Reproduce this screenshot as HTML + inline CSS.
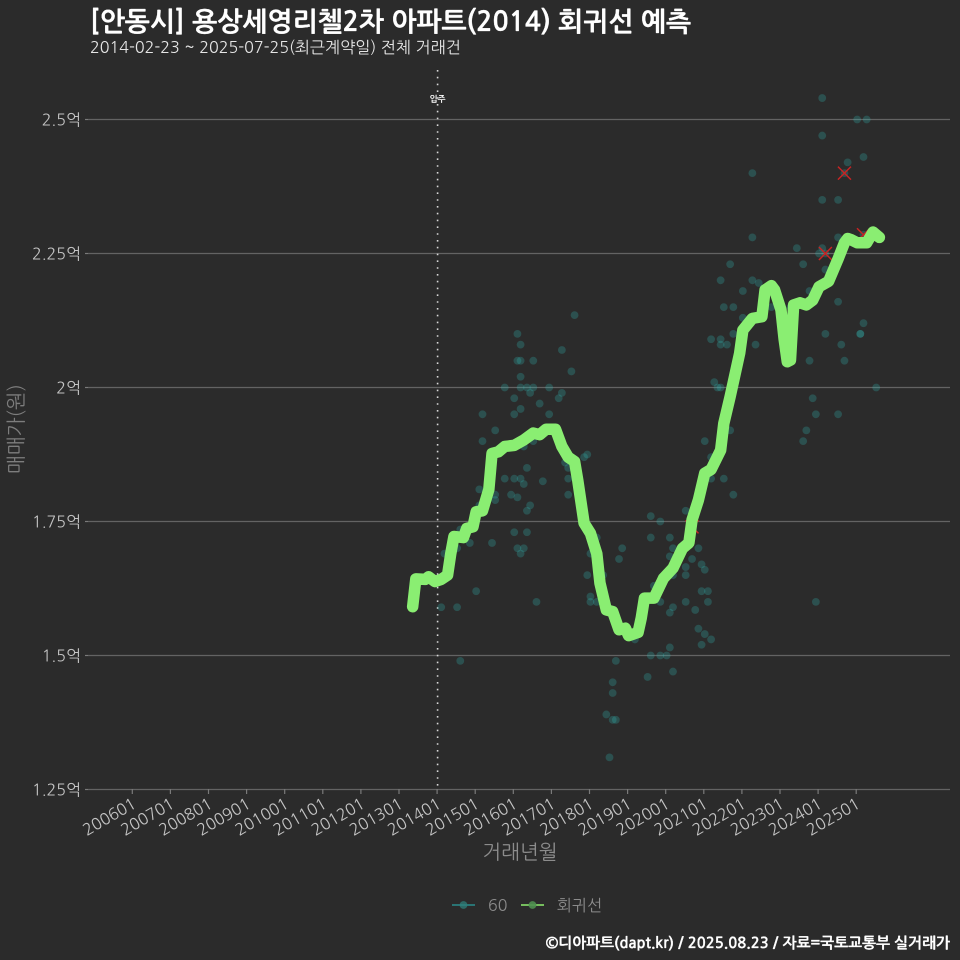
<!DOCTYPE html>
<html lang="ko">
<head>
<meta charset="utf-8">
<title>안동시 용상세영리첼2차 아파트 회귀선 예측</title>
<style>
html,body{margin:0;padding:0;background:#2b2b2b;}
svg{display:block;font-family:"Liberation Sans","NanumGothic",sans-serif;}
.cjk{font-family:"NanumGothic","Noto Sans CJK KR","Liberation Sans",sans-serif;}
</style>
</head>
<body>
<svg id="chart" xmlns="http://www.w3.org/2000/svg" width="960" height="960" viewBox="0 0 960 960">
  <rect x="0" y="0" width="960" height="960" fill="#2b2b2b"/>
  <text class="cjk" x="90" y="31" font-size="26.7" font-weight="700" fill="#ffffff" stroke="#ffffff" stroke-width="0.3">[안동시] 용상세영리첼2차 아파트(2014) 회귀선 예측</text>
  <text class="cjk" x="90" y="53" font-size="16.1" fill="#e6e6e6">2014-02-23 ~ 2025-07-25(최근계약일) 전체 거래건</text>
  <g id="grid"></g>
  <g id="xaxis"></g>
  <g id="marks"></g>
  <text class="cjk" x="520" y="859" font-size="20" text-anchor="middle" fill="#8c8c8c">거래년월</text>
  <text class="cjk" x="23" y="429" font-size="20" text-anchor="middle" fill="#7d7d7d" transform="rotate(-90 23 429)">매매가(원)</text>
  <g>
    <g>
      <line x1="452" y1="905" x2="475" y2="905" stroke="#2a8c8c" stroke-width="1.5"/>
      <circle cx="463.5" cy="905" r="3.9" fill="#2f7f7a" fill-opacity="0.75"/>
      <text class="cjk" x="488" y="911" font-size="16" fill="#8c8c8c">60</text>
    </g>
    <g>
      <line x1="521" y1="905" x2="544" y2="905" stroke="#90ee70" stroke-width="1.5"/>
      <circle cx="532.5" cy="905" r="3.9" fill="#4f8f50" fill-opacity="0.9"/>
      <text class="cjk" x="557" y="911" font-size="16" fill="#8c8c8c">회귀선</text>
    </g>
  </g>
  <text class="cjk" x="950" y="948" font-size="14.85" font-weight="700" text-anchor="end" fill="#ffffff" stroke="#ffffff" stroke-width="0.25">©디아파트(dapt.kr) / 2025.08.23 / 자료=국토교통부 실거래가</text>
</svg>
<script>
const yTickValues = [1.25, 1.5, 1.75, 2, 2.25, 2.5];
const yTickLabels = ['1.25억', '1.5억', '1.75억', '2억', '2.25억', '2.5억'];
const xTickLabels = ['200601','200701','200801','200901','201001','201101','201201','201301','201401','201501','201601','201701','201801','201901','202001','202101','202201','202301','202401','202501'];
const moveInMonth = '201401';
const moveInLabel = '입주';
// months since 200601
const lineMonths = [88,89,92,93,95,97,99,100,101,104,105,107,108,110,112,113,115,117,120,123,126,128,130,133,135,137,139,140,142,144,146,147,149,151,153,155,156,159,160,161,164,167,170,173,175,176,178,180,182,185,186,188,191,192,195,198,199,201,202,204,205,206,207,208,210,212,214,216,219,222,224,225,226,228,231,233,235];
const lineValues = [1.591,1.643,1.642,1.647,1.638,1.642,1.65,1.69,1.722,1.72,1.737,1.74,1.768,1.77,1.81,1.877,1.88,1.89,1.892,1.902,1.915,1.912,1.922,1.922,1.89,1.87,1.862,1.827,1.747,1.728,1.69,1.635,1.585,1.582,1.548,1.551,1.537,1.543,1.57,1.607,1.607,1.644,1.663,1.7,1.71,1.753,1.79,1.84,1.847,1.883,1.933,1.983,2.064,2.107,2.129,2.132,2.182,2.19,2.182,2.145,2.09,2.048,2.051,2.154,2.158,2.154,2.163,2.188,2.198,2.24,2.27,2.278,2.276,2.27,2.27,2.29,2.28];
const pointMonths = [97,98,102,102,103,103,106,108,109,109,110,110,113,114,114,114,117,117,119,120,120,120,120,121,121,121,121,122,122,122,122,122,122,122,123,123,123,124,124,124,124,125,125,126,126,126,127,128,129,131,131,135,135,134,135,136,137,137,137,138,139,143,142,143,144,144,144,146,146,148,149,150,151,151,151,152,152,153,154,158,162,163,163,163,164,166,166,166,168,169,169,169,169,170,170,170,170,174,174,174,174,176,176,177,178,178,179,179,179,180,180,180,181,181,182,182,182,182,183,184,185,185,185,185,186,186,187,188,188,189,189,189,192,192,195,195,195,196,197,201,207,209,211,211,212,213,213,214,215,215,216,217,217,217,217,218,218,218,222,222,222,222,223,224,224,225,228,229,229,230,230,230,231,234];
const pointValues = [1.59,1.69,1.59,1.70,1.735,1.49,1.71,1.62,1.78,1.81,1.90,1.95,1.71,1.80,1.79,1.92,1.83,2.00,1.80,1.83,1.73,1.98,1.95,2.10,1.795,2.05,1.70,1.83,1.96,2.08,2.05,2.02,2.00,1.69,1.82,1.70,1.89,2.00,1.85,1.77,1.73,1.99,1.78,2.00,2.05,1.90,1.60,1.97,1.825,2.00,1.95,2.07,1.99,1.98,1.90,1.86,1.85,1.83,1.80,2.03,2.135,1.875,1.87,1.65,1.69,1.61,1.60,1.72,1.60,1.65,1.39,1.31,1.45,1.43,1.38,1.49,1.38,1.68,1.70,1.53,1.46,1.76,1.72,1.50,1.63,1.75,1.60,1.50,1.50,1.515,1.72,1.685,1.58,1.70,1.65,1.59,1.47,1.77,1.665,1.65,1.60,1.68,1.74,1.585,1.70,1.55,1.67,1.62,1.52,1.66,1.54,1.90,1.62,1.60,1.53,1.87,1.83,2.09,2.01,2.00,2.00,2.09,2.08,2.20,2.15,1.83,2.08,2.23,1.92,2.15,1.80,2.10,2.18,2.13,2.40,2.28,2.20,2.08,2.195,2.15,2.15,2.26,2.23,1.90,1.92,2.05,2.18,1.98,1.95,1.60,2.25,2.54,2.47,2.35,2.26,2.22,2.10,2.25,2.35,2.28,2.16,1.95,2.08,2.40,2.05,2.42,2.50,2.10,2.10,2.43,2.12,2.285,2.50,2.00];
const outlierMonths = [176,218,224,230];
const outlierValues = [1.74,2.25,2.40,2.285];

const SVGNS = 'http://www.w3.org/2000/svg';
const PLOT_LEFT = 88, PLOT_RIGHT = 950, PLOT_BOTTOM = 789, PLOT_TOP = 70;
function yScale(v){ return 119.5 + (2.5 - v) * 536; }
function monthIndex(label){ return (parseInt(label.slice(0,4),10) - 2006) * 12 + parseInt(label.slice(4),10) - 1; }
function tickX(m){ return 132.3 + 3.175 * m; }
function markX(m){ return 133.25 + 3.175 * m; }
function make(tag, attrs){
  const el = document.createElementNS(SVGNS, tag);
  for (const k in attrs) el.setAttribute(k, attrs[k]);
  return el;
}
const grid = document.getElementById('grid');
const xaxis = document.getElementById('xaxis');
const marks = document.getElementById('marks');

yTickValues.forEach(function(v, i){
  const y = yScale(v);
  const line = make('line', {x1: PLOT_LEFT, x2: PLOT_RIGHT, y1: y, y2: y, stroke: '#636363', 'stroke-width': 1.3});
  
  
  grid.appendChild(line);
  const tick = make('line', {x1: 85, x2: PLOT_LEFT, y1: y, y2: y, stroke: '#7a7a7a', 'stroke-width': 1.2});
  
  
  grid.appendChild(tick);
  const label = make('text', {x: 81, y: y + 6, 'text-anchor': 'end', 'font-size': 16, fill: '#c4c4c4', class: 'cjk'});
  
  
  label.textContent = yTickLabels[i];
  grid.appendChild(label);
});

xTickLabels.forEach(function(t){
  const x = tickX(monthIndex(t));
  const tick = make('line', {x1: x, x2: x, y1: PLOT_BOTTOM, y2: PLOT_BOTTOM + 5, stroke: '#7a7a7a', 'stroke-width': 1.2});
  
  
  xaxis.appendChild(tick);
  const lx = x + 5, ly = 807;
  const label = make('text', {x: lx, y: ly, 'text-anchor': 'end', 'font-size': 16, fill: '#c4c4c4', class: 'cjk', transform: 'rotate(-30 ' + lx + ' ' + ly + ')'});
  
  
  label.textContent = t;
  xaxis.appendChild(label);
});

const mx = tickX(monthIndex(moveInMonth)) + 0.5;
const moveLine = make('line', {x1: mx, x2: mx, y1: PLOT_TOP, y2: PLOT_BOTTOM, stroke: '#d8d8d8', 'stroke-width': 1.6, 'stroke-dasharray': '1.6 5.2'});


marks.appendChild(moveLine);
const moveText = make('text', {x: mx, y: 102, 'text-anchor': 'middle', 'font-size': 8.5, 'font-weight': 700, fill: '#ffffff', class: 'cjk'});


moveText.textContent = moveInLabel;
marks.appendChild(moveText);

pointMonths.forEach(function(m, i){
  const c = make('circle', {cx: markX(m), cy: yScale(pointValues[i]), r: 3.9, fill: '#2fb5b0', 'fill-opacity': 0.27});
  
  
  marks.appendChild(c);
});

outlierMonths.forEach(function(m, i){
  const cx = markX(m), cy = yScale(outlierValues[i]);
  const x = make('path', {d: 'M' + (cx-6.5) + ' ' + (cy-6.5) + 'L' + (cx+6.5) + ' ' + (cy+6.5) + 'M' + (cx-6.5) + ' ' + (cy+6.5) + 'L' + (cx+6.5) + ' ' + (cy-6.5), stroke: '#c82424', 'stroke-width': 1.5, fill: 'none'});
  
  
  marks.appendChild(x);
});

const pathD = lineMonths.map(function(m, i){ return (i ? 'L' : 'M') + markX(m).toFixed(2) + ' ' + yScale(lineValues[i]).toFixed(2); }).join('');
const regression = make('path', {d: pathD, fill: 'none', stroke: '#8aee72', 'stroke-width': 11.5, 'stroke-linecap': 'round', 'stroke-linejoin': 'round'});


marks.appendChild(regression);
</script>
</body>
</html>
